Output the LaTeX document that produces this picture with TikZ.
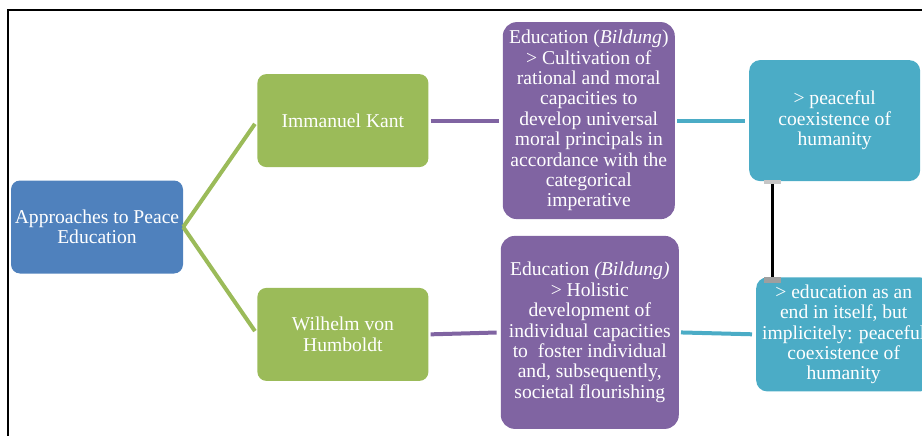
\documentclass[tikz,border=0pt]{standalone}
\usepackage{fontspec}
\setmainfont{Liberation Serif}
\usetikzlibrary{positioning}
\definecolor{peaceblue}{HTML}{4F81BD}
\definecolor{peacegreen}{HTML}{9BBB59}
\definecolor{peacepurple}{HTML}{8064A2}
\definecolor{peaceteal}{HTML}{4BACC6}
\tikzset{
    %Define style for boxes
    punkt/.style={
           rectangle,
           rounded corners=9pt,
           text=white,
           align=center,
           inner sep=2pt,
           font=\fontsize{19.6}{20.4}\selectfont},
    rootbox/.style={punkt, fill=peaceblue, minimum width=172pt, minimum height=93pt},
    namebox/.style={punkt, fill=peacegreen, minimum width=171pt, minimum height=93pt},
    bildbox/.style={punkt, rounded corners=14pt, fill=peacepurple},
    goalbox/.style={punkt, rounded corners=11pt, fill=peaceteal},
    handle/.style={rectangle, inner sep=0pt, minimum width=17pt, minimum height=4pt},
    % Define line style
    pil/.style={
           line width=4pt,
           shorten <=2pt,
           shorten >=4pt,}
}
\begin{document}
\begin{tikzpicture}
\useasboundingbox (0,0) rectangle (922pt,-436pt);
\draw[line width=1.3pt] (8pt,-440pt) |- (930pt,-10pt);

\node[rootbox](root) at (97pt,-227pt){Approaches to Peace\\Education};
\node[namebox, above right=13pt and 74pt of root](kant){Immanuel Kant};
\node[namebox, below right=14pt and 74pt of root](humb){Wilhelm von\\Humboldt};
\node[bildbox, minimum width=172pt, minimum height=197pt, right=74pt of kant](edu1){%
    Education (\textit{Bildung})\\> Cultivation of\\rational and moral\\capacities to\\develop universal\\moral principals in\\accordance with the\\categorical\\imperative};
\node[bildbox, minimum width=178pt, minimum height=193pt, right=72pt of humb, yshift=2pt](edu2){%
    Education \textit{(Bildung)}\\> Holistic\\development of\\individual capacities\\to\ \ foster individual\\and, subsequently,\\societal flourishing};
\node[goalbox, minimum width=171pt, minimum height=121pt, right=74pt of edu1](out1){%
    > peaceful\\coexistence of\\humanity};
\node[goalbox, minimum width=175pt, minimum height=114pt, right=77pt of edu2, yshift=-2pt](out2){%
    > education as an\\end in itself, but\\implicitely: peaceful\\coexistence of\\humanity};

\path[pil, draw=peacegreen, shorten <=0pt]
    (root.east) edge (kant.west)
                edge (humb.west);
\path[pil, draw=peacepurple]
    (kant.east) edge (edu1.west)
    (humb.east) edge (edu2.west);
\path[pil, draw=peaceteal]
    (edu1.east) edge (out1.west)
    (edu2.east) edge (out2.west);

\coordinate (c1) at ([xshift=23pt]out1.south west);
\coordinate (c2) at (c1 |- out2.north);
\draw[line width=3pt] (c1) -- (c2);
\node[handle, fill=gray!45, yshift=-1pt] at (c1) {};
\node[handle, fill=gray!75, minimum height=6pt, yshift=-3pt] at (c2) {};
\end{tikzpicture}
\end{document}
